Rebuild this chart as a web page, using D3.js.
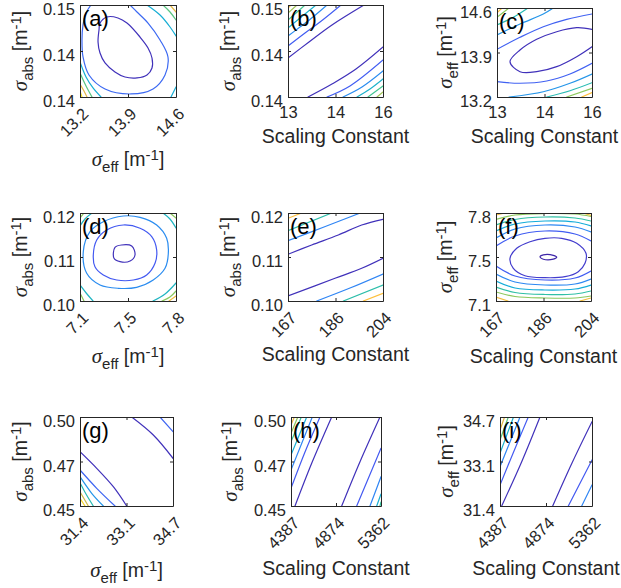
<!DOCTYPE html>
<html><head><meta charset="utf-8">
<script src="https://cdn.jsdelivr.net/npm/d3@7"></script>
<style>
html,body{margin:0;padding:0;background:#fff;}
svg{display:block;}
</style></head><body>
<svg id="chart" width="621" height="588"></svg>
<script>
// ---------------- colour map (parula) ----------------
const parulaPos = [0, 0.12, 0.25, 0.37, 0.5, 0.62, 0.75, 0.85, 0.92, 1];
const parulaHex = ["#3e26a8","#4751f1","#2f85f4","#14acd9","#35c49c","#8bc85c","#e2b844","#fdbf3a","#f4e12a","#f9fb15"];

// ---------------- panel (a) ----------------
const xDomainA = [13.2, 14.6], yDomainA = [0.135, 0.145];
const xTicksA = [13.2, 13.9, 14.6], yTicksA = [0.135, 0.140, 0.145];
const xTickTextA = ["13.2","13.9","14.6"], yTickTextA = ["0.14","0.14","0.15"];
const levelsA = [0.03, 0.18, 0.38, 0.55, 0.76, 0.92];
const linesA = [
 [1,true,[[13.492,0.14304],[13.594,0.14370],[13.754,0.14359],[13.885,0.14304],[14.075,0.14152],[14.192,0.14033],[14.250,0.13924],[14.250,0.13815],[14.177,0.13739],[14.031,0.13707],[13.856,0.13717],[13.710,0.13772],[13.565,0.13870],[13.492,0.13978],[13.463,0.14098],[13.477,0.14228]]],
 [2,false,[[13.360,0.145],[13.288,0.14413],[13.244,0.14283],[13.229,0.14120],[13.244,0.13935],[13.331,0.13739],[13.565,0.13587],[13.944,0.13533],[14.265,0.13587],[14.440,0.13739],[14.483,0.13935],[14.367,0.14120],[14.192,0.14304],[14.031,0.14424],[13.929,0.145]]],
 [3,false,[[14.177,0.145],[14.367,0.14391],[14.513,0.14261],[14.6,0.14163]]],
 [3,false,[[13.2,0.13880],[13.288,0.13717],[13.390,0.13598],[13.506,0.135]]],
 [3,false,[[14.527,0.135],[14.6,0.13609]]],
 [4,false,[[14.410,0.145],[14.513,0.14424],[14.6,0.14337]]],
 [4,false,[[13.2,0.13761],[13.288,0.13620],[13.375,0.135]]],
 [5,false,[[14.513,0.145],[14.6,0.14424]]],
 [5,false,[[13.2,0.13641],[13.258,0.13565],[13.302,0.135]]],
 [6,false,[[13.2,0.13565],[13.229,0.135]]]
];

// ---------------- panel (b) ----------------
const xDomainB = [13, 16], yDomainB = [0.135, 0.145];
const xTicksB = [13, 14.5, 16], yTicksB = [0.135, 0.140, 0.145];
const xTickTextB = ["13","14","16"], yTickTextB = ["0.14","0.14","0.15"];
const levelsB = [0.03, 0.15, 0.27, 0.40, 0.52, 0.65, 0.80];
const linesB = [
 [1,false,[[13,0.13924],[13.663,0.14098],[14.389,0.14283],[15.4,0.145]]],
 [2,false,[[13,0.14054],[13.537,0.14196],[14.011,0.14315],[14.674,0.145]]],
 [3,false,[[13,0.14163],[13.379,0.14261],[13.789,0.14370],[14.232,0.145]]],
 [4,false,[[13,0.14250],[13.379,0.14359],[13.884,0.145]]],
 [5,false,[[13,0.14337],[13.253,0.14413],[13.537,0.145]]],
 [6,false,[[13,0.14413],[13.284,0.145]]],
 [7,false,[[13,0.14467],[13.095,0.145]]],
 [1,false,[[13.632,0.135],[14.389,0.13641],[15.147,0.13804],[16,0.14043]]],
 [2,false,[[14.232,0.135],[14.958,0.13620],[16,0.13902]]],
 [3,false,[[14.737,0.135],[15.337,0.13609],[16,0.13783]]],
 [4,false,[[15.179,0.135],[15.589,0.13587],[16,0.13696]]],
 [5,false,[[15.526,0.135],[16,0.13620]]],
 [6,false,[[15.811,0.135],[16,0.13554]]]
];

// ---------------- panel (c) ----------------
const xDomainC = [13, 16], yDomainC = [13.2, 14.6];
const xTicksC = [13, 14.5, 16], yTicksC = [13.2, 13.9, 14.6];
const xTickTextC = ["13","14","16"], yTickTextC = ["13.2","13.9","14.6"];
const levelsC = [0.03, 0.16, 0.30, 0.45, 0.62, 0.85];
const linesC = [
 [1,false,[[16,14.265],[15.517,14.290],[14.885,14.227],[14.254,14.108],[13.726,13.939],[13.411,13.755],[13.726,13.598],[14.254,13.598],[14.885,13.677],[15.517,13.834],[16,13.991]]],
 [2,false,[[13,13.950],[13.726,14.139],[14.462,14.306],[15.201,14.422],[16,14.506]]],
 [2,false,[[13,13.441],[13.726,13.416],[14.569,13.452],[15.305,13.562],[16,13.730]]],
 [3,false,[[13,14.175],[13.726,14.348],[14.462,14.506],[14.778,14.6]]],
 [3,false,[[13.379,13.2],[14.462,13.283],[15.305,13.416],[16,13.562]]],
 [4,false,[[13,14.333],[13.515,14.454],[13.979,14.6]]],
 [4,false,[[14.569,13.2],[15.305,13.299],[16,13.425]]],
 [5,false,[[13,14.454],[13.379,14.6]]],
 [5,false,[[15.201,13.2],[16,13.337]]],
 [6,false,[[13,14.526],[13.158,14.6]]],
 [6,false,[[15.675,13.2],[16,13.268]]]
];

// ---------------- panel (d) ----------------
const xDomainD = [7.1, 7.8], yDomainD = [0.10, 0.12];
const xTicksD = [7.1, 7.45, 7.8], yTicksD = [0.10, 0.11, 0.12];
const xTickTextD = ["7.1","7.5","7.8"], yTickTextD = ["0.10","0.11","0.12"];
const levelsD = [0.03, 0.14, 0.27, 0.42, 0.62, 0.80];
const linesD = [
 [1,true,[[7.355,0.11220],[7.404,0.11273],[7.477,0.11250],[7.501,0.11045],[7.465,0.10909],[7.392,0.10893],[7.348,0.10970]]],
 [2,true,[[7.197,0.11045],[7.222,0.11386],[7.295,0.11614],[7.416,0.11727],[7.538,0.11652],[7.623,0.11461],[7.659,0.11159],[7.647,0.10857],[7.586,0.10591],[7.489,0.10477],[7.368,0.10477],[7.270,0.10591],[7.209,0.10780]]],
 [3,true,[[7.124,0.11120],[7.173,0.11575],[7.270,0.11802],[7.416,0.11932],[7.538,0.11902],[7.659,0.11727],[7.732,0.11425],[7.744,0.11084],[7.720,0.10743],[7.634,0.10477],[7.513,0.10311],[7.379,0.10289],[7.246,0.10364],[7.149,0.10630]]],
 [4,false,[[7.1,0.11705],[7.136,0.11864],[7.188,0.12]]],
 [4,false,[[7.705,0.12],[7.756,0.11864],[7.8,0.11659]]],
 [4,false,[[7.1,0.10364],[7.151,0.10159],[7.195,0.1]]],
 [4,false,[[7.632,0.1],[7.720,0.10159],[7.8,0.10409]]],
 [5,false,[[7.1,0.11886],[7.129,0.12]]],
 [5,false,[[7.756,0.12],[7.8,0.11886]]],
 [5,false,[[7.1,0.10182],[7.129,0.1]]],
 [5,false,[[7.698,0.1],[7.756,0.10091],[7.8,0.10227]]],
 [6,false,[[7.749,0.1],[7.8,0.10114]]]
];

// ---------------- panel (e) ----------------
const xDomainE = [167, 204], yDomainE = [0.10, 0.12];
const xTicksE = [167, 185.5, 204], yTicksE = [0.10, 0.11, 0.12];
const xTickTextE = ["167","186","204"], yTickTextE = ["0.10","0.11","0.12"];
const levelsE = [0.03, 0.25, 0.47, 0.85];
const linesE = [
 [1,false,[[167,0.11061],[176.23,0.11273],[186.59,0.11500],[195.70,0.11727],[204,0.11857]]],
 [2,false,[[167,0.11370],[181.02,0.11682],[195.16,0.12]]],
 [3,false,[[167,0.11598],[184.02,0.12]]],
 [4,false,[[167,0.11880],[172.34,0.12]]],
 [1,false,[[167,0.10114],[185.31,0.10516],[195.70,0.10743],[204,0.10970]]],
 [2,false,[[178.18,0.1],[191.15,0.10295],[204,0.10614]]],
 [3,false,[[188.54,0.1],[204,0.10364]]],
 [4,false,[[196.33,0.1],[204,0.10175]]]
];

// ---------------- panel (f) ----------------
const xDomainF = [167, 204], yDomainF = [7.1, 7.8];
const xTicksF = [167, 185.5, 204], yTicksF = [7.1, 7.45, 7.8];
const xTickTextF = ["167","186","204"], yTickTextF = ["7.1","7.5","7.8"];
const levelsF = [0.0, 0.06, 0.15, 0.26, 0.37, 0.48, 0.62, 0.80];
const linesF = [
 [1,true,[[184.14,7.452],[185.42,7.4675],[189.32,7.4635],[190.64,7.4476],[189.32,7.4325],[185.42,7.4325]]],
 [2,true,[[172.45,7.4397],[175.06,7.5192],[180.24,7.5717],[186.08,7.5988],[192.59,7.5988],[198.43,7.559],[202.05,7.4794],[201.66,7.3999],[199.05,7.3331],[193.87,7.2933],[186.08,7.2853],[178.29,7.3013],[173.74,7.3601]]],
 [3,false,[[167,7.5375],[174.40,7.617],[186.08,7.6568],[197.77,7.633],[204,7.5773]]],
 [4,false,[[167,7.6011],[174.40,7.6727],[186.08,7.7045],[197.77,7.6886],[204,7.6489]]],
 [5,false,[[167,7.6568],[174.40,7.7125],[186.08,7.7364],[197.77,7.7284],[204,7.6966]]],
 [6,false,[[167,7.7045],[174.40,7.7483],[186.08,7.7682],[197.77,7.7602],[204,7.7364]]],
 [7,false,[[167,7.7483],[174.40,7.7841],[186.08,7.796],[197.77,7.792],[204,7.7722]]],
 [8,false,[[167,7.7841],[170.51,7.8]]],
 [8,false,[[200.89,7.8],[204,7.7801]]],
 [3,false,[[167,7.3784],[174.40,7.2989],[186.08,7.267],[197.77,7.283],[204,7.3386]]],
 [4,false,[[167,7.3148],[174.40,7.2511],[186.08,7.2273],[197.77,7.2352],[204,7.275]]],
 [5,false,[[167,7.2591],[174.40,7.2034],[186.08,7.1875],[197.77,7.1955],[204,7.2273]]],
 [6,false,[[167,7.2114],[174.40,7.1676],[186.08,7.1517],[197.77,7.1557],[204,7.1795]]],
 [7,false,[[167,7.1716],[174.40,7.1358],[186.08,7.1239],[197.77,7.1239],[204,7.1398]]],
 [8,false,[[167,7.1318],[171.67,7.1]]],
 [8,false,[[199.72,7.1],[204,7.1239]]]
];

// ---------------- panel (g) ----------------
const xDomainG = [31.4, 34.7], yDomainG = [0.45, 0.50];
const xTicksG = [31.4, 33.05, 34.7], yTicksG = [0.45, 0.475, 0.50];
const xTickTextG = ["31.4","33.1","34.7"], yTickTextG = ["0.45","0.47","0.50"];
const levelsG = [0.03, 0.17, 0.30, 0.45, 0.72, 0.90];
const linesG = [
 [1,false,[[33.235,0.5],[34.001,0.48989],[34.7,0.47680]]],
 [2,false,[[34.239,0.5],[34.7,0.49174]]],
 [1,false,[[31.4,0.48051],[31.993,0.47118],[32.582,0.46084],[33.057,0.45]]],
 [2,false,[[31.4,0.47022],[31.993,0.45994],[32.642,0.45]]],
 [3,false,[[31.4,0.46646],[31.815,0.45713],[32.227,0.45]]],
 [4,false,[[31.4,0.46309],[31.613,0.45674],[31.872,0.45]]],
 [5,false,[[31.4,0.45803],[31.695,0.45]]],
 [6,false,[[31.4,0.45433],[31.577,0.45]]]
];

// ---------------- panel (h) ----------------
const xDomainH = [4387, 5362], yDomainH = [0.45, 0.50];
const xTicksH = [4387, 4874.5, 5362], yTicksH = [0.45, 0.475, 0.50];
const xTickTextH = ["4387","4874","5362"], yTickTextH = ["0.45","0.47","0.50"];
const levelsH = [0.03, 0.14, 0.25, 0.38, 0.50, 0.62, 0.78];
const linesH = [
 [1,false,[[4430.3,0.45],[4611.2,0.47399],[4827.9,0.5]]],
 [2,false,[[4387,0.45994],[4538.7,0.48034],[4701.2,0.5]]],
 [3,false,[[4387,0.47022],[4617.7,0.5]]],
 [4,false,[[4387,0.47865],[4557.0,0.5]]],
 [5,false,[[4387,0.48612],[4498.6,0.5]]],
 [6,false,[[4387,0.49084],[4460.7,0.5]]],
 [7,false,[[4387,0.49551],[4422.7,0.5]]],
 [1,false,[[4936.2,0.45],[5134.5,0.47489],[5351.1,0.5]]],
 [2,false,[[5098.7,0.45],[5362,0.48242]]],
 [3,false,[[5242.8,0.45],[5362,0.46646]]],
 [4,false,[[5315.4,0.45],[5362,0.45674]]],
 [5,false,[[5351.1,0.45],[5362,0.45225]]]
];

// ---------------- panel (i) ----------------
const xDomainI = [4387, 5362], yDomainI = [31.4, 34.7];
const xTicksI = [4387, 4874.5, 5362], yTicksI = [31.4, 33.05, 34.7];
const xTickTextI = ["4387","4874","5362"], yTickTextI = ["31.4","33.1","34.7"];
const levelsI = [0.03, 0.14, 0.25, 0.40, 0.55, 0.75];
const linesI = [
 [1,false,[[4405.0,31.4],[4617.0,33.043],[4810.9,34.7]]],
 [2,false,[[4387,32.179],[4535.4,33.439],[4686.9,34.7]]],
 [3,false,[[4387,32.857],[4599.0,34.7]]],
 [4,false,[[4387,33.354],[4530.0,34.7]]],
 [5,false,[[4387,33.847],[4475.0,34.7]]],
 [6,false,[[4387,34.218],[4435.0,34.7]]],
 [1,false,[[4945.5,31.4],[5150.1,32.994],[5362,34.526]]],
 [2,false,[[5110.8,31.4],[5362,33.106]]],
 [3,false,[[5252.9,31.4],[5362,32.179]]]
];

const panelLetters = ["(a)","(b)","(c)","(d)","(e)","(f)","(g)","(h)","(i)"];
const xTitleKinds = ["eff","scale","scale","eff","scale","scale","eff","scale","scale"];
const yTitleKinds = ["abs","abs","eff","abs","abs","eff","abs","abs","eff"];

// ---------------- layout (pixels) ----------------
const boxes = [
 [80,176,5,97],[288,383,5,97],[497,592,8,97],
 [80,176,213,301],[288,383,213,301],[496,591,213,301],
 [80,173,417,506],[291,381,417,506],[500,592,417,506]
];
const rotated = [true,false,false,true,true,true,true,true,true];
const yTitleGap = [53,53,45,53,53,44,53,54,47];
const xTitleGap = [69,46,46,62,60,62,71,69,69];

const panels = [
 [xDomainA,yDomainA,xTicksA,yTicksA,xTickTextA,yTickTextA,levelsA,linesA],
 [xDomainB,yDomainB,xTicksB,yTicksB,xTickTextB,yTickTextB,levelsB,linesB],
 [xDomainC,yDomainC,xTicksC,yTicksC,xTickTextC,yTickTextC,levelsC,linesC],
 [xDomainD,yDomainD,xTicksD,yTicksD,xTickTextD,yTickTextD,levelsD,linesD],
 [xDomainE,yDomainE,xTicksE,yTicksE,xTickTextE,yTickTextE,levelsE,linesE],
 [xDomainF,yDomainF,xTicksF,yTicksF,xTickTextF,yTickTextF,levelsF,linesF],
 [xDomainG,yDomainG,xTicksG,yTicksG,xTickTextG,yTickTextG,levelsG,linesG],
 [xDomainH,yDomainH,xTicksH,yTicksH,xTickTextH,yTickTextH,levelsH,linesH],
 [xDomainI,yDomainI,xTicksI,yTicksI,xTickTextI,yTickTextI,levelsI,linesI]
];

// ---------------- drawing ----------------
const FONT = "'Liberation Sans', Arial, Helvetica, sans-serif";
const INK = "#262626";
const svg = d3.select("#chart");
const parula = d3.scaleLinear().domain(parulaPos).range(parulaHex).clamp(true);
const defs = svg.append("defs");

function sigmaTitle(textSel, sub) {
  textSel.append("tspan").attr("font-family","'Liberation Serif','DejaVu Serif',serif")
    .attr("font-style","italic").attr("font-size",21).text("σ");
  textSel.append("tspan").attr("font-size",15).attr("dy",6).text(sub);
  textSel.append("tspan").attr("dy",-6).text(" [m");
  textSel.append("tspan").attr("font-size",15).attr("dy",-6).text("-1");
  textSel.append("tspan").attr("dy",6).text("]");
}

panels.forEach((p, idx) => {
  const [xd, yd, xt, yt, xl, yl, lev, lines] = p;
  const [x0, x1, y0, y1] = boxes[idx];
  const xs = d3.scaleLinear().domain(xd).range([x0, x1]);
  const ys = d3.scaleLinear().domain(yd).range([y1, y0]);
  const g = svg.append("g");

  defs.append("clipPath").attr("id", "clip" + idx)
    .append("rect").attr("x", x0).attr("y", y0).attr("width", x1 - x0).attr("height", y1 - y0);

  const open = d3.line().x(d => xs(d[0])).y(d => ys(d[1])).curve(d3.curveCatmullRom.alpha(0.5));
  const closed = d3.line().x(d => xs(d[0])).y(d => ys(d[1])).curve(d3.curveCatmullRomClosed.alpha(0.5));

  g.append("g").attr("clip-path", `url(#clip${idx})`)
    .selectAll("path").data(lines).join("path")
    .attr("d", d => (d[1] ? closed : open)(d[2]))
    .attr("fill", "none")
    .attr("stroke", d => parula(lev[d[0] - 1]))
    .attr("stroke-width", 1.2)
    .attr("stroke-linejoin", "round")
    .attr("stroke-linecap", "round");

  // axes (ticks inside on all sides)
  const bottom = g.append("g").attr("transform", `translate(0,${y1})`)
    .call(d3.axisBottom(xs).tickValues(xt).tickSizeInner(-3).tickSizeOuter(0)
      .tickPadding(9.6).tickFormat((d, i) => xl[i]));
  const top = g.append("g").attr("transform", `translate(0,${y0})`)
    .call(d3.axisTop(xs).tickValues(xt).tickSizeInner(-3).tickSizeOuter(0).tickFormat(""));
  const left = g.append("g").attr("transform", `translate(${x0},0)`)
    .call(d3.axisLeft(ys).tickValues(yt).tickSizeInner(-3).tickSizeOuter(0)
      .tickPadding(5).tickFormat((d, i) => yl[i]));
  const right = g.append("g").attr("transform", `translate(${x1},0)`)
    .call(d3.axisRight(ys).tickValues(yt).tickSizeInner(-3).tickSizeOuter(0).tickFormat(""));

  [bottom, top, left, right].forEach(a => {
    a.attr("color", INK).attr("font-family", FONT).attr("font-size", 16.5);
    a.selectAll("path,line").attr("stroke-width", 1);
    a.selectAll("text").attr("fill", INK);
  });
  left.selectAll(".tick text").attr("dy", "0.6em");
  if (rotated[idx]) {
    bottom.selectAll(".tick text")
      .attr("x", 0).attr("y", 0).attr("dy", null)
      .attr("text-anchor", "end")
      .attr("transform", "translate(9,18) rotate(-45)");
  }

  // panel letter
  g.append("text").attr("x", x0 + 2).attr("y", y0 + 21)
    .attr("font-family", FONT).attr("font-size", 22).attr("fill", "#000")
    .text(panelLetters[idx]);

  // x title
  const xTitle = g.append("text")
    .attr("x", (x0 + x1) / 2).attr("y", y1 + xTitleGap[idx])
    .attr("text-anchor", "middle").attr("font-family", FONT)
    .attr("font-size", 19.5).attr("fill", INK);
  if (xTitleKinds[idx] === "scale") xTitle.text("Scaling Constant");
  else sigmaTitle(xTitle, "eff");

  // y title
  const yTitle = g.append("text")
    .attr("transform", `translate(${x0 - yTitleGap[idx]},${(y0 + y1) / 2}) rotate(-90)`)
    .attr("text-anchor", "middle").attr("font-family", FONT)
    .attr("font-size", 19.5).attr("fill", INK);
  sigmaTitle(yTitle, yTitleKinds[idx]);
});
</script>
</body></html>
